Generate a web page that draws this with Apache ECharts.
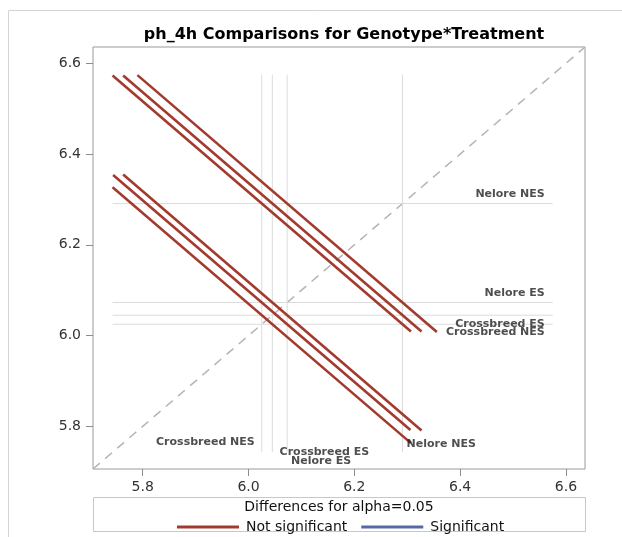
<!DOCTYPE html>
<html><head><meta charset="utf-8">
<script src="https://cdn.jsdelivr.net/npm/echarts@6/dist/echarts.min.js"></script>
<style>html,body{margin:0;padding:0;background:#fff}#c{width:622px;height:537px}</style>
</head><body><div id="c"></div>
<script>
// ---- data ----
const levels = ['Crossbreed NES', 'Crossbreed ES', 'Nelore ES', 'Nelore NES'];
const lsmeans = [6.025, 6.045, 6.073, 6.291];
// pairwise comparisons: level index on x, level index on y
const pairX = [0, 1, 2, 0, 1, 0];
const pairY = [3, 3, 3, 2, 2, 1];
// half-length of each difference interval (projected on each axis)
const halfLen = [0.282, 0.282, 0.283, 0.281, 0.282, 0.282];
const significant = [false, false, false, false, false, false];
const tickValues = [5.8, 6.0, 6.2, 6.4, 6.6];
const axisMin = 5.706, axisMax = 6.636;
const refStart = 5.743, refEnd = 6.575;

// ---- styling ----
const FONT = 'DejaVu Sans';
const RED = '#A23A2E', BLUE = '#5868A6';
// label placement for reference lines (pixel offsets)
const hLabelOffset = [[-8, 8], [-8, 8.5], [-8, -9], [-8, -9]];
const vLabelStyle = [
  {align: 'right', offset: [-7, -10.5]},
  {align: 'center', offset: [52, -0.5]},
  {align: 'center', offset: [34, 8.5]},
  {align: 'left', offset: [4, -8.5]}
];

const series = [];
// diagonal
series.push({type: 'line', silent: true, symbol: 'none', z: 1,
  data: [[axisMin, axisMin], [axisMax, axisMax]],
  lineStyle: {color: '#b4b4b4', width: 1.5, type: [9, 7]}});
// reference lines
levels.forEach((name, i) => {
  series.push({type: 'line', silent: true, symbol: 'none', z: 1,
    data: [[refStart, lsmeans[i]], [refEnd, lsmeans[i]]],
    lineStyle: {color: '#dcdcdc', width: 1}});
  series.push({type: 'line', silent: true, symbol: 'none', z: 1,
    data: [[lsmeans[i], refStart], [lsmeans[i], refEnd]],
    lineStyle: {color: '#dcdcdc', width: 1}});
});
// comparison segments
pairX.forEach((xi, k) => {
  const cx = lsmeans[xi], cy = lsmeans[pairY[k]], h = halfLen[k];
  series.push({type: 'line', name: significant[k] ? 'Significant' : 'Not significant',
    symbol: 'none', z: 3, color: significant[k] ? BLUE : RED,
    data: [[cx - h, cy + h], [cx + h, cy - h]],
    lineStyle: {color: significant[k] ? BLUE : RED, width: 2.6}});
});
if (!significant.includes(true)) {
  series.push({type: 'line', name: 'Significant', symbol: 'none', color: BLUE, data: [],
    lineStyle: {color: BLUE, width: 2.6}});
}
if (!significant.includes(false)) {
  series.push({type: 'line', name: 'Not significant', symbol: 'none', color: RED, data: [],
    lineStyle: {color: RED, width: 2.6}});
}
// reference line labels
const lblBase = {show: true, position: 'inside', fontFamily: FONT, fontSize: 11,
  fontWeight: 'bold', color: '#222', verticalAlign: 'middle'};
series.push({type: 'scatter', silent: true, symbolSize: 1, z: 5,
  itemStyle: {color: 'rgba(0,0,0,0)'},
  data: levels.map((name, i) => ({value: [refEnd, lsmeans[i]],
    label: Object.assign({}, lblBase, {formatter: name, align: 'right', offset: hLabelOffset[i]})}))});
series.push({type: 'scatter', silent: true, symbolSize: 1, z: 5,
  itemStyle: {color: 'rgba(0,0,0,0)'},
  data: levels.map((name, i) => ({value: [lsmeans[i], refStart],
    label: Object.assign({}, lblBase, {formatter: name, align: vLabelStyle[i].align, offset: vLabelStyle[i].offset})}))});

const axisCommon = {
  type: 'value', min: axisMin, max: axisMax,
  axisLine: {show: false},
  splitLine: {show: false},
  axisTick: {show: true, customValues: tickValues, length: 7, lineStyle: {color: '#8c8c8c'}},
  axisLabel: {customValues: tickValues, formatter: v => v.toFixed(1),
    fontFamily: FONT, fontSize: 14, color: '#333'}
};

const chart = echarts.init(document.getElementById('c'), null, {renderer: 'canvas'});
chart.setOption({
  animation: false,
  backgroundColor: '#fff',
  grid: {left: 93, right: 37, top: 47, bottom: 68, show: true,
    borderColor: '#9a9a9a', borderWidth: 1, backgroundColor: '#fff'},
  xAxis: Object.assign({}, axisCommon, {axisLabel: Object.assign({}, axisCommon.axisLabel, {margin: 11})}),
  yAxis: Object.assign({}, axisCommon, {axisLabel: Object.assign({}, axisCommon.axisLabel, {margin: 12})}),
  legend: {left: 172, top: 515, itemWidth: 62, itemHeight: 3, itemGap: 14, icon: 'rect',
    data: ['Not significant', 'Significant'],
    textStyle: {fontFamily: FONT, fontSize: 14, color: '#111', padding: [0, 0, 0, 2]}},
  title: {text: 'ph_4h Comparisons for Genotype*Treatment', left: 339, textAlign: 'center', top: 22,
    textStyle: {fontFamily: FONT, fontSize: 16, fontWeight: 'bold', color: '#000'}},
  graphic: [
    {type: 'rect', silent: true, z: -10, shape: {x: 8.5, y: 10.5, width: 640, height: 600},
      style: {fill: 'none', stroke: '#d4d4d4', lineWidth: 1}},
    {type: 'rect', silent: true, shape: {x: 93.5, y: 497.5, width: 492, height: 34},
      style: {fill: 'none', stroke: '#c8c8c8', lineWidth: 1}},
    {type: 'text', silent: true, x: 339, y: 500,
      style: {text: 'Differences for alpha=0.05', align: 'center', fontFamily: FONT, fontSize: 14, fill: '#111'}}
  ],
  series: series
});
</script></body></html>
